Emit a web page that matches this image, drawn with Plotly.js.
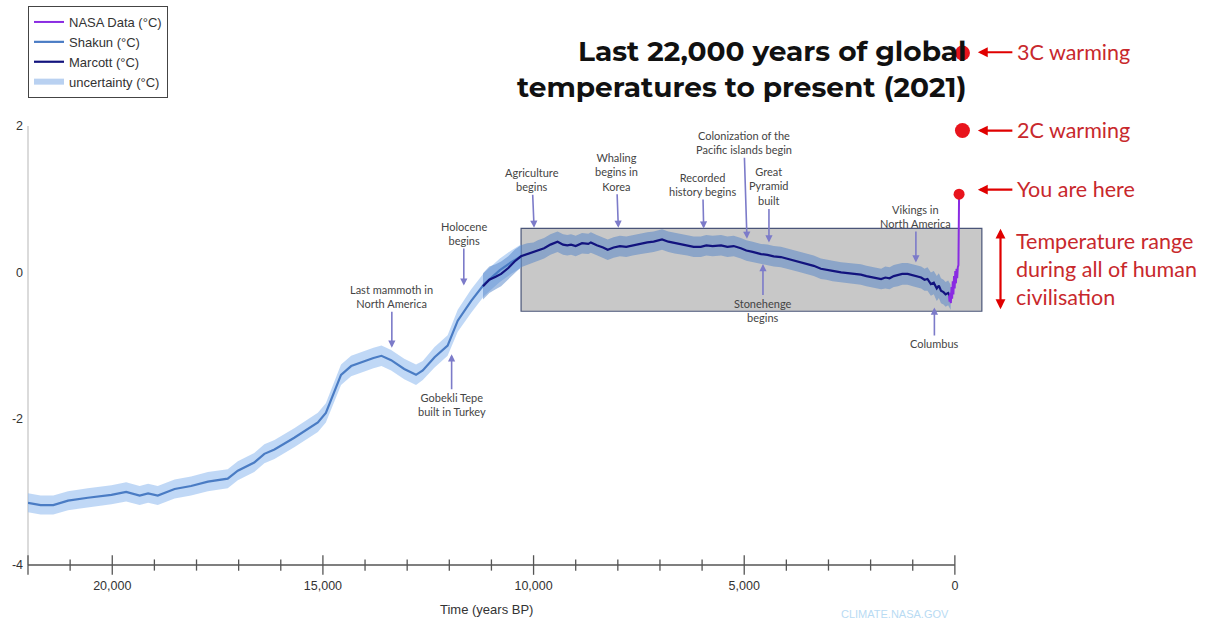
<!DOCTYPE html>
<html>
<head>
<meta charset="utf-8">
<script src="https://cdn.plot.ly/plotly-3.0.1.min.js"></script>
<style>html,body{margin:0;padding:0;background:#fff;}#chart{width:1207px;height:623px;}</style>
</head>
<body>
<div id="chart"></div>
<script>
// ---------- DATA ----------
const shakunYears = [22000,21700,21400,21050,20580,20020,19670,19350,19150,18920,18520,18130,17730,17260,17020,16630,16390,16150,15680,15120,14930,14800,14570,14330,14010,13800,13610,13380,13070,12790,12630,12350,12040,11800,11480,11170,10800,10530,10300];
const shakunTemp  = [-3.15,-3.18,-3.18,-3.12,-3.08,-3.04,-3.00,-3.05,-3.02,-3.05,-2.96,-2.92,-2.86,-2.82,-2.71,-2.60,-2.48,-2.42,-2.26,-2.05,-1.92,-1.73,-1.40,-1.28,-1.21,-1.17,-1.14,-1.20,-1.32,-1.40,-1.34,-1.16,-1.00,-0.66,-0.39,-0.16,0.03,0.14,0.22];
const shakunUnc   = [0.13,0.13,0.13,0.13,0.13,0.13,0.13,0.13,0.13,0.13,0.13,0.13,0.13,0.13,0.13,0.13,0.13,0.13,0.13,0.13,0.13,0.13,0.14,0.14,0.14,0.14,0.14,0.14,0.14,0.14,0.13,0.14,0.14,0.15,0.16,0.16,0.16,0.16,0.16];

const marcottYears = [11200,11050,10900,10770,10600,10450,10300,10150,10000,9900,9750,9600,9430,9300,9200,9110,9000,8850,8700,8640,8500,8350,8240,8100,7950,7800,7650,7450,7300,7150,6950,6800,6650,6500,6350,6200,6030,5900,5750,5550,5400,5250,5080,4950,4800,4600,4450,4300,4130,4000,3850,3650,3500,3350,3180,3050,2900,2700,2550,2400,2230,2100,1950,1750,1650,1550,1450,1350,1250,1120,1000,900,800,720,650,570,500,430,380,330,270,220,160,100];
const marcottTemp  = [-0.19,-0.10,-0.06,-0.02,0.06,0.15,0.22,0.25,0.27,0.30,0.33,0.38,0.42,0.38,0.37,0.38,0.36,0.40,0.39,0.41,0.37,0.34,0.31,0.34,0.36,0.35,0.37,0.39,0.41,0.42,0.45,0.42,0.40,0.38,0.37,0.35,0.35,0.37,0.36,0.37,0.35,0.36,0.33,0.30,0.28,0.25,0.24,0.22,0.21,0.19,0.17,0.14,0.12,0.09,0.05,0.04,0.02,0.00,-0.01,-0.02,-0.03,-0.05,-0.07,-0.09,-0.07,-0.08,-0.05,-0.04,-0.02,-0.02,-0.04,-0.05,-0.07,-0.10,-0.09,-0.16,-0.14,-0.22,-0.18,-0.25,-0.27,-0.30,-0.28,-0.34];
const marcottUnc   = [0.18,0.18,0.17,0.17,0.16,0.16,0.15,0.15,0.14,0.14,0.14,0.14,0.14,0.14,0.14,0.14,0.14,0.14,0.14,0.14,0.14,0.14,0.14,0.14,0.14,0.14,0.14,0.14,0.14,0.14,0.14,0.14,0.14,0.14,0.14,0.14,0.14,0.14,0.14,0.14,0.14,0.14,0.14,0.14,0.14,0.14,0.14,0.14,0.14,0.14,0.14,0.14,0.14,0.14,0.14,0.14,0.14,0.14,0.14,0.14,0.14,0.14,0.14,0.14,0.15,0.15,0.15,0.15,0.15,0.15,0.15,0.15,0.15,0.15,0.16,0.16,0.16,0.17,0.17,0.17,0.17,0.17,0.17,0.17];

const nasaYears = [140,125,110,95,80,65,50,35,20,5,-10,-25,-40,-55,-70,-85,-100];
const nasaTemp  = [-0.32,-0.40,-0.28,-0.42,-0.20,-0.36,-0.12,-0.30,-0.05,-0.22,0.02,-0.15,0.05,-0.08,0.07,0.10,1.07];

const markerYears = [-100,-180,-180];
const markerTemp  = [1.07,1.94,3.0];

const xTickVals = [20000,15000,10000,5000,0];
const xTickText = ['20,000','15,000','10,000','5,000','0'];
const yTickVals = [-4,-2,0,2];
const yTickText = ['-4','-2','0','2'];

const eventLabels = ['Last mammoth in<br>North America','Holocene<br>begins','Gobekli Tepe<br>built in Turkey','Agriculture<br>begins','Whaling<br>begins in<br>Korea','Recorded<br>history begins','Colonization of the<br>Pacific islands begin','Great<br>Pyramid<br>built','Stonehenge<br>begins','Vikings in<br>North America','Columbus'];
const eventYears  = [13364,11656,11945,9988,7988,5962,4935,4413,4555,925,486];
const eventTemp   = [-1.03,-0.18,-1.12,0.61,0.61,0.60,0.46,0.41,0.115,0.137,-0.48];

const sideLabels = ['3C warming','2C warming','You are here'];

// ---------- HELPERS (layout geometry) ----------
const PX0 = 954, PXPER = 0.04215;   // pixel of year 0, px per year
const PY0 = 271.7, PYPER = 73.1;    // pixel of 0 degC, px per degC
const yr = px => (PX0 - px) / PXPER;
const tc = py => (PY0 - py) / PYPER;
const padX = px => (px - 28) / 969.5;
const padY = py => (576 - py) / 545;

function band(xs, ys, us) {
  const bx = xs.concat(xs.slice().reverse());
  const by = ys.map((v,i)=>v+us[i]).concat(ys.map((v,i)=>v-us[i]).reverse());
  return {x: bx, y: by};
}
const sB = band(shakunYears, shakunTemp, shakunUnc);
const mB = band(marcottYears, marcottTemp, marcottUnc);

const minorTicks = [], majorTicks = [22000];
for (let t = 0; t <= 21000; t += 1000) { if (t % 5000 === 0) majorTicks.push(t); else minorTicks.push(t); }

const traces = [
  {x: sB.x, y: sB.y, type:'scatter', mode:'lines', fill:'toself', fillcolor:'rgba(150,190,240,0.6)', line:{width:0}, hoverinfo:'skip', showlegend:false},
  {x: mB.x, y: mB.y, type:'scatter', mode:'lines', fill:'toself', fillcolor:'rgba(80,130,200,0.5)', line:{width:0}, hoverinfo:'skip', showlegend:false},
  {x: shakunYears, y: shakunTemp, type:'scatter', mode:'lines', name:'Shakun (°C)', line:{color:'#4a7cc4', width:2.2}, legendrank:2},
  {x: marcottYears, y: marcottTemp, type:'scatter', mode:'lines', name:'Marcott (°C)', line:{color:'#12137e', width:2.2}, legendrank:3},
  {x: nasaYears, y: nasaTemp, type:'scatter', mode:'lines', name:'NASA Data (°C)', line:{color:'#8a2be2', width:2}, legendrank:1},
  {x: [null], y: [null], type:'scatter', mode:'lines', name:'uncertainty (°C)', line:{color:'#b9d1f1', width:6}, legendrank:4},
  {x: markerYears, y: markerTemp, type:'scatter', mode:'markers', marker:{color:'#e8141c', opacity:1, size:[11,15,15], line:{width:0}}, cliponaxis:false, showlegend:false, hoverinfo:'skip'},
  {x: minorTicks, y: minorTicks.map(()=>-4), type:'scatter', mode:'markers', marker:{symbol:'line-ns-open', color:'#555', size:8, line:{color:'#555', width:1.3}}, cliponaxis:false, showlegend:false, hoverinfo:'skip'},
  {x: majorTicks, y: majorTicks.map(()=>-4), type:'scatter', mode:'markers', marker:{symbol:'line-ns-open', color:'#555', size:14, line:{color:'#555', width:1.3}}, cliponaxis:false, showlegend:false, hoverinfo:'skip'}
];

const eventOffsets = [[0,-51],[0,-52],[0,50],[-2,-48],[-2,-56],[-1,-44],[-3,-96],[0,-56],[0,46],[0,-46],[0,36]];
const evFont = {family:'Lato, Open Sans, sans-serif', size:11, color:'#444'};
const annotations = eventLabels.map((t,i)=>({
  x: eventYears[i], y: eventTemp[i], xref:'x', yref:'y', text:t, showarrow:true,
  ax: eventOffsets[i][0], ay: eventOffsets[i][1], arrowcolor:'#7c7bc9', arrowwidth:1.6, arrowhead:2, arrowsize:0.9,
  font: evFont, align:'center'
}));

const red = '#e00000', redText = '#c8282c';
const redFont = {family:'Lato, Carlito, Open Sans, sans-serif', size:21.5, color:redText};
[[51.7],[130],[189]].forEach((p,i)=>{
  annotations.push({x: yr(977), y: tc(p[0]), xref:'x', yref:'y', text:'', showarrow:true, ax:36, ay:0, arrowcolor:red, arrowwidth:2.2, arrowhead:2, arrowsize:0.9});
  annotations.push({x: padX(1016), y: padY(p[0]), xref:'paper', yref:'paper', text: sideLabels[i], showarrow:false, xanchor:'left', yanchor:'middle', font: redFont});
});
annotations.push({x: padX(1001), y: tc(228), xref:'paper', yref:'y', text:'', showarrow:true, ax:0, ay:82, arrowcolor:red, arrowwidth:2.2, arrowhead:2, arrowsize:0.9, arrowside:'end+start'});
annotations.push({x: padX(1015), y: padY(269), xref:'paper', yref:'paper', text:'Temperature range<br>during all of human<br>civilisation', showarrow:false, xanchor:'left', yanchor:'middle', align:'left', font: redFont});

// title
annotations.push({x: padX(968), y: padY(69.5), xref:'paper', yref:'paper', xanchor:'right', yanchor:'middle', align:'right', showarrow:false,
  text:'<b>Last 22,000 years of global<br>temperatures to present (2021)</b>', font:{family:'Montserrat, Open Sans, sans-serif', size:28, color:'#111'}});
// axis title
annotations.push({x: padX(487), y: padY(610), xref:'paper', yref:'paper', xanchor:'center', yanchor:'middle', showarrow:false,
  text:'Time (years BP)', font:{family:'Liberation Sans Narrow, Liberation Sans, Arial, sans-serif', size:13, color:'#333'}});
// watermark
annotations.push({x: padX(895), y: padY(614), xref:'paper', yref:'paper', xanchor:'center', yanchor:'middle', showarrow:false,
  text:'CLIMATE.NASA.GOV', font:{family:'Liberation Sans, Arial, sans-serif', size:11, color:'#b9dbf3'}});

const layout = {
  width:1207, height:623,
  margin:{l:28, r:209.5, t:31, b:47, pad:0, autoexpand:false},
  paper_bgcolor:'#fff', plot_bgcolor:'#fff',
  showlegend:true,
  legend:{x:0, y:padY(6), xanchor:'left', yanchor:'top', bordercolor:'#444', borderwidth:1, bgcolor:'#fff',
    font:{family:'Liberation Sans, Arial, sans-serif', size:13, color:'#333'}, itemwidth:30, tracegroupgap:0, traceorder:'normal'},
  xaxis:{range:[22000,-1000], showgrid:false, zeroline:false, showline:false, ticks:'', tickvals:xTickVals, ticktext:xTickText,
    tickfont:{family:'Liberation Sans Narrow, Liberation Sans, Arial, sans-serif', size:12.5, color:'#333'}},
  yaxis:{range:[-4.15,3.3], showgrid:false, zeroline:false, showline:false, ticks:'', tickvals:yTickVals, ticktext:yTickText,
    ticklabelstandoff:4, tickfont:{family:'Liberation Sans, Arial, sans-serif', size:12.5, color:'#333'}},
  shapes:[
    {type:'rect', xref:'x', yref:'y', x0:yr(520), x1:yr(981), y0:tc(310.5), y1:tc(227.7), fillcolor:'#c8c8c8', line:{color:'#4a5578', width:1.2}, layer:'below'},
    {type:'line', xref:'paper', yref:'y', x0:0, x1:0, y0:-4, y1:2, line:{color:'#cfcfcf', width:1.5}, layer:'below'},
    {type:'line', xref:'x', yref:'y', x0:22000, x1:0, y0:-4, y1:-4, line:{color:'#555', width:1.5}}
  ],
  annotations: annotations
};

Plotly.newPlot('chart', traces, layout, {displayModeBar:false, staticPlot:true});
</script>
</body>
</html>
